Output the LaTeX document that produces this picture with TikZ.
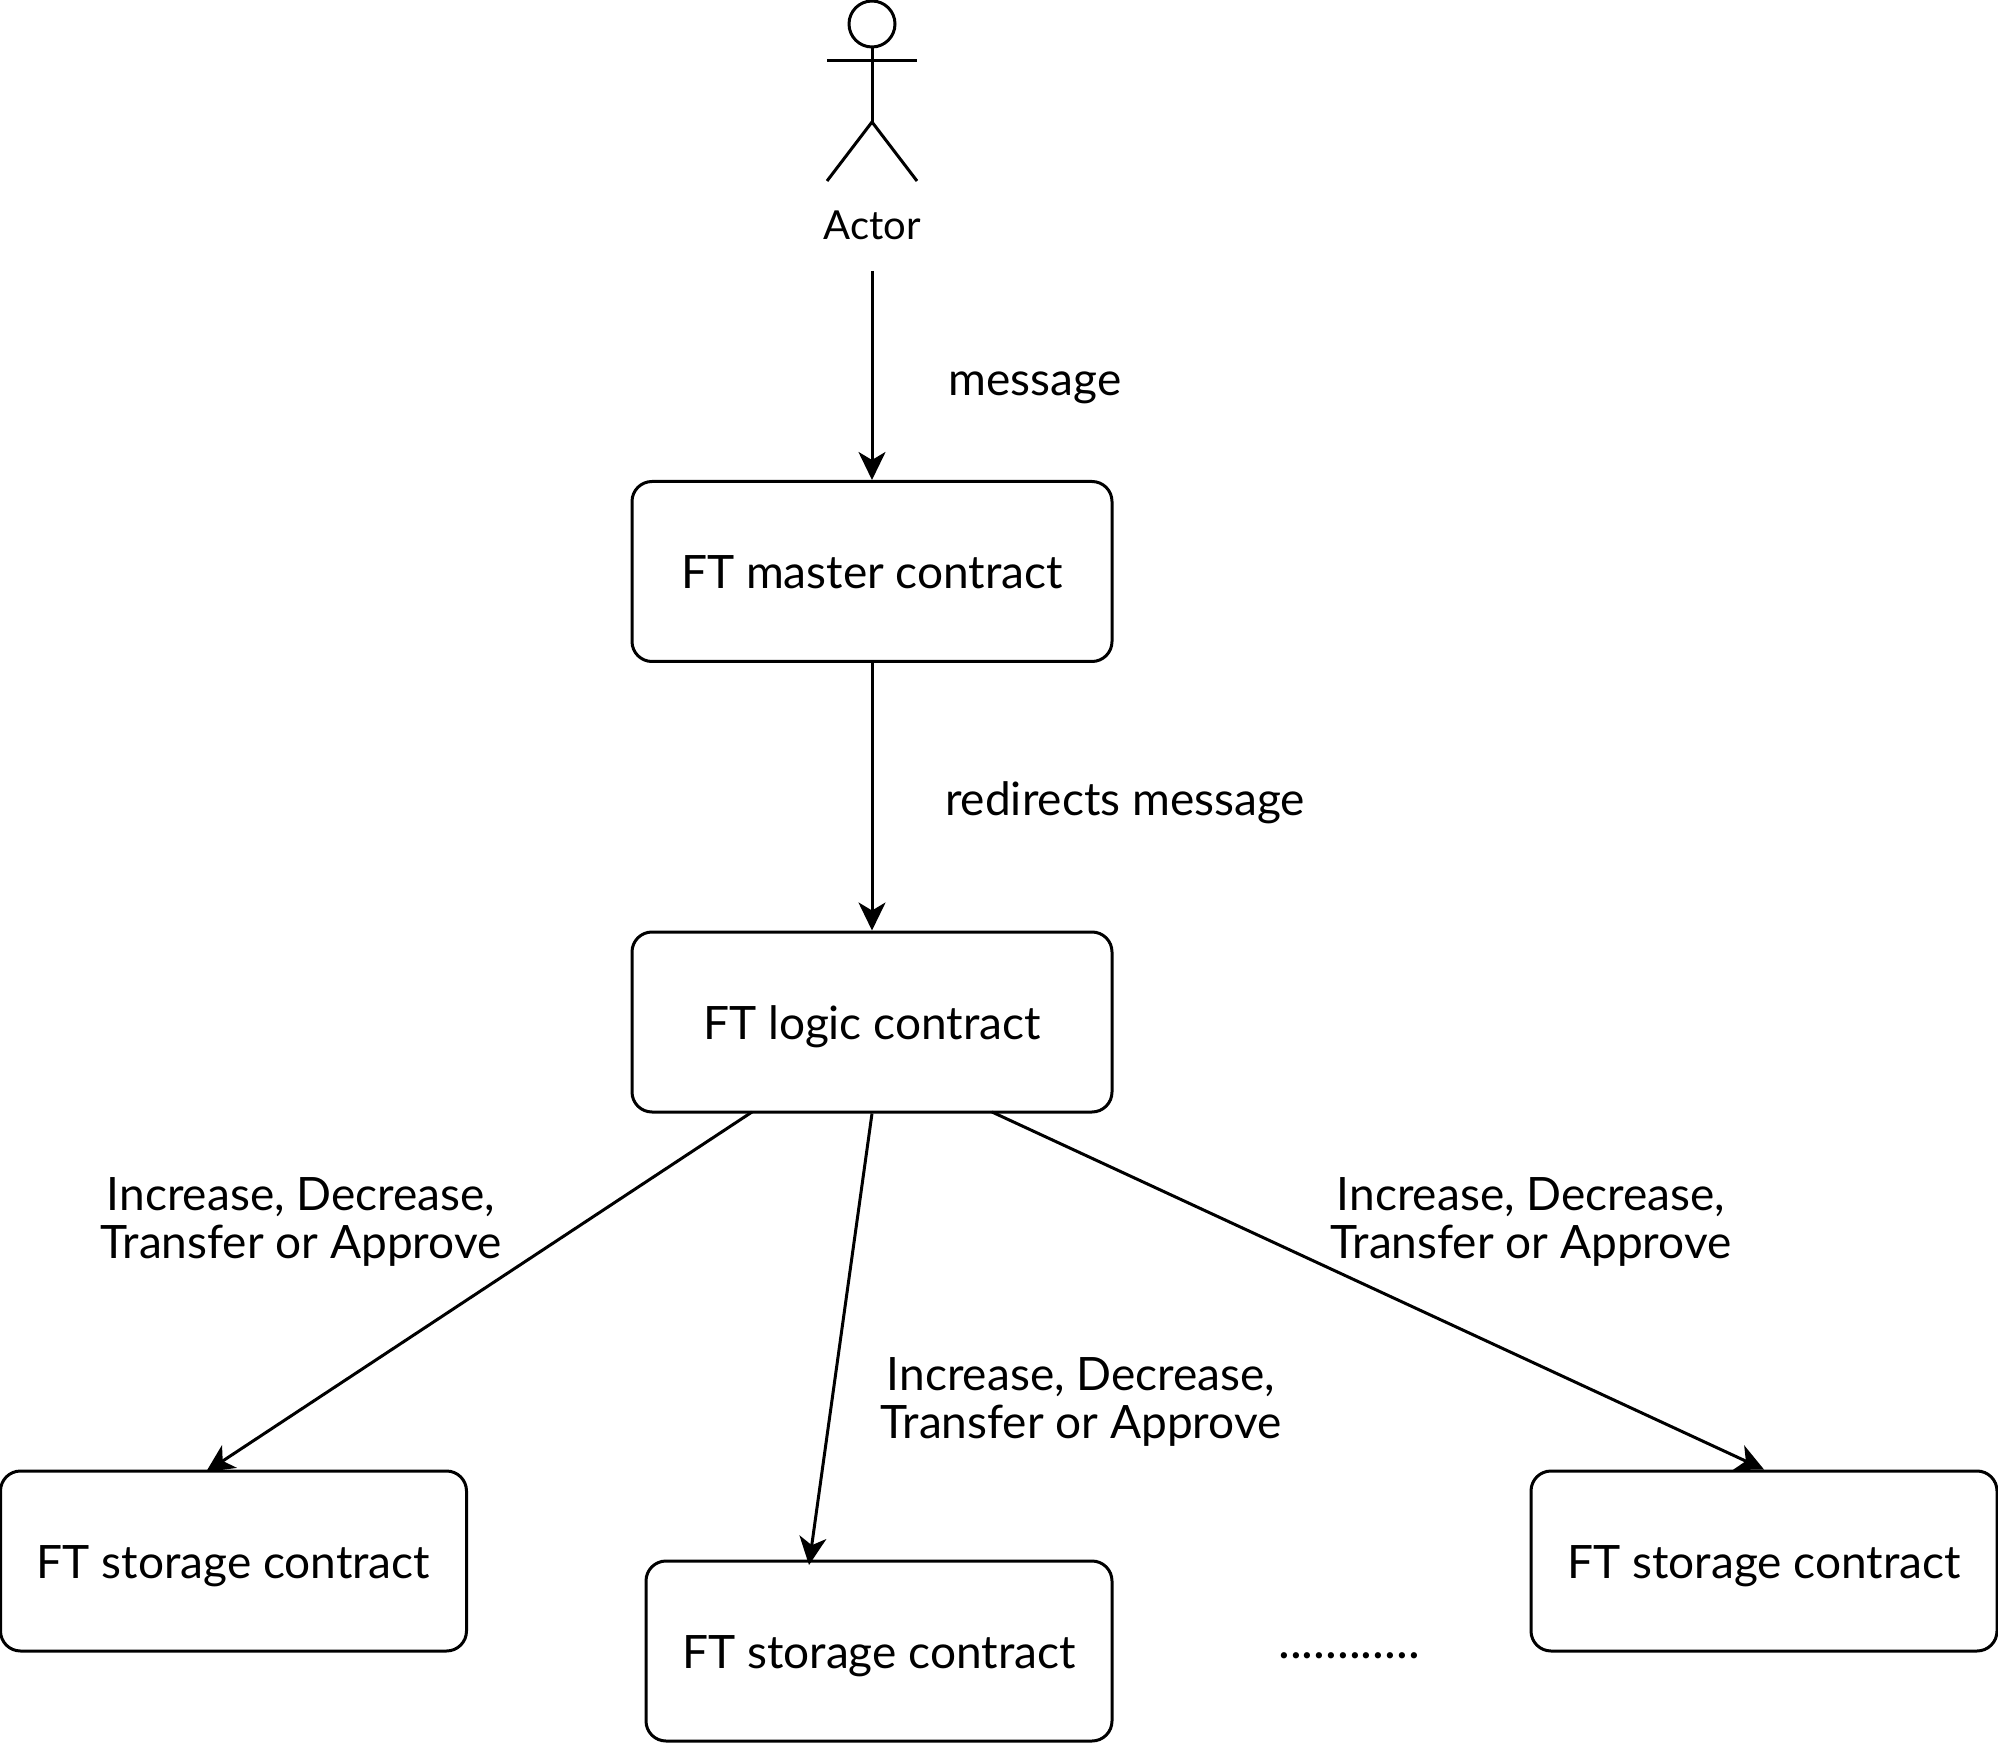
\documentclass[tikz,border=0pt]{standalone}
\usepackage{fontspec}
\setmainfont{Lato}
\usetikzlibrary{arrows.meta}
\tikzset{
	contract/.style={draw, rounded corners=10pt, line width=1.5pt, inner sep=0pt, minimum height=90pt, text height=22pt, text depth=5pt, font=\fontsize{23}{27}\selectfont},
	msg/.style={font=\fontsize{23}{24}\selectfont, align=center, inner sep=0pt},
	link/.style={-{Stealth[length=14pt,width=13.5pt,inset=4pt]}, line width=1.5pt},
}
\begin{document}
\begin{tikzpicture}[x=0.5pt, y=-0.5pt]
	\useasboundingbox (0,0) rectangle (1998,1743);

	% Acteur
	\coordinate (HEAD) at (872,24);
	\coordinate (NECK) at (872,47);
	\coordinate (HIP) at (872,122);
	\draw[line width=1.5pt] (HEAD) circle (23);
	\draw[line width=1.5pt] (NECK) -- (HIP);
	\draw[line width=1.5pt] (827,61) -- (917,61);
	\draw[line width=1.5pt] (827,181) -- (HIP) -- (917,181);
	\node[font=\fontsize{20}{24}\selectfont, inner sep=0pt] (actor) at (872,225) {Actor};
	\coordinate (START) at (872,271);

	% Contrats
	\node[contract, minimum width=240pt] (master) at (872,571.5) {FT master contract};
	\node[contract, minimum width=240pt] (logic) at (872,1022) {FT logic contract};
	\node[contract, minimum width=233pt] (left) at (233.5,1561) {FT storage contract};
	\node[contract, minimum width=233pt] (middle) at (879,1651) {FT storage contract};
	\node[contract, minimum width=233pt] (right) at (1764,1561) {FT storage contract};

	% Points de liaison
	\coordinate (LOGICL) at (752,1112);
	\coordinate (LOGICR) at (992,1112);
	\coordinate (LEFTIN) at (206,1472);
	\coordinate (MIDIN) at (809,1565);

	% Liaisons
	\draw[link] (START) -- (master.north);
	\draw[link] (master.south) -- (logic.north);
	\draw[link] (LOGICL) -- (LEFTIN);
	\draw[link] (logic.south) -- (MIDIN);
	\draw[link] (LOGICR) -- (right.north);

	% Etiquettes
	\node[msg] (lmessage) at (1035,388) {message};
	\node[msg] (lredirect) at (1125,803) {redirects message};
	\node[msg] (lleft) at (301,1222) {Increase, Decrease,\\Transfer or Approve};
	\node[msg] (lmiddle) at (1081,1402) {Increase, Decrease,\\Transfer or Approve};
	\node[msg] (lright) at (1531,1222) {Increase, Decrease,\\Transfer or Approve};
	\node[msg, font=\fontsize{25}{24}\selectfont] (dots) at (1349,1656) {............};
\end{tikzpicture}
\end{document}
